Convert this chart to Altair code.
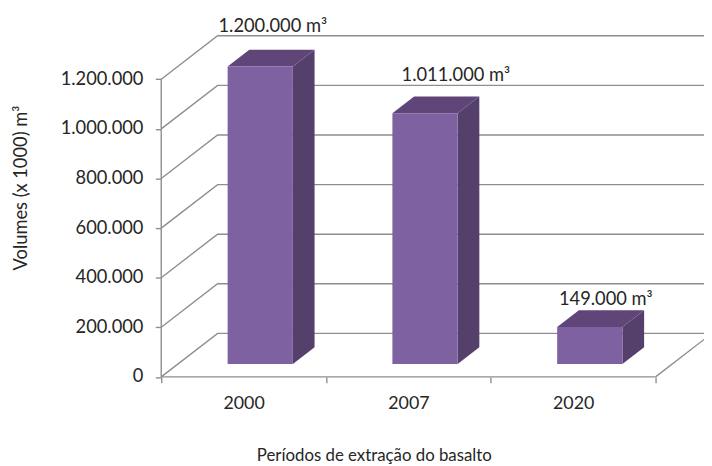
import altair as alt
import pandas as pd

categories = ["2000", "2007", "2020"]
volumes = [1200000, 1011000, 149000]
value_labels = ["1.200.000 m³", "1.011.000 m³", "149.000 m³"]
y_ticks = [0, 200000, 400000, 600000, 800000, 1000000, 1200000]

X_TITLE = "Períodos de extração do basalto"
Y_TITLE = "Volumes (x 1000) m³"
FONT = "Lato"
INK = "#262626"

# pseudo-3D projection, in data units
DEPTH_X = 0.342      # slots per full depth
DEPTH_Y = 175400     # volume units per full depth
BAR_WIDTH = 0.396
NEAR, FAR = 0.295, 0.68
XMIN, XMAX = 0.0, 3.0
x_scale = alt.Scale(domain=[-0.93, 3.294], nice=False, zero=False)
y_scale = alt.Scale(domain=[-348837, 1477076], nice=False, zero=False)
X = alt.X("x:Q", scale=x_scale, title=X_TITLE)
Y = alt.Y("y:Q", scale=y_scale, title=Y_TITLE)

# wall lines
seg = []
sid = 0
for t in y_ticks:
    seg += [dict(id=sid, o=0, x=XMIN, y=t),
            dict(id=sid, o=1, x=XMIN + DEPTH_X, y=t + DEPTH_Y),
            dict(id=sid, o=2, x=XMAX + DEPTH_X, y=t + DEPTH_Y)]
    sid += 1
seg += [dict(id=sid, o=0, x=XMAX, y=0), dict(id=sid, o=1, x=XMAX + DEPTH_X, y=DEPTH_Y)]
sid += 1
seg += [dict(id=sid, o=0, x=XMIN, y=0), dict(id=sid, o=1, x=XMAX, y=0)]
sid += 1
seg += [dict(id=sid, o=0, x=XMIN, y=0), dict(id=sid, o=1, x=XMIN, y=max(y_ticks))]
grid = (
    alt.Chart(pd.DataFrame(seg))
    .mark_line(color="#8e8e8e", strokeWidth=1.4, clip=True)
    .encode(
        x=alt.X(
            "x:Q", scale=x_scale, title=X_TITLE,
            axis=alt.Axis(
                offset=-87.5, values=[0, 0.5, 1, 1.5, 2, 2.5, 3], domain=False, grid=False,
                tickColor="#8e8e8e", tickWidth=1.4, tickSize=6,
                tickOpacity={"expr": "datum.value % 1 == 0 ? 1 : 0"},
                labelExpr="datum.value == 0.5 ? '2000' : datum.value == 1.5 ? '2007' : datum.value == 2.5 ? '2020' : ''",
                labelFont=FONT, labelFontSize=18, labelColor=INK, labelPadding=12,
                labelFlush=False, labelOverlap=False,
                titleFont=FONT, titleFontSize=17, titleFontWeight="normal", titleColor=INK,
                titleX=370, titleY=80, titleBaseline="middle",
            ),
        ),
        y=alt.Y(
            "y:Q", scale=y_scale, title=Y_TITLE,
            axis=alt.Axis(
                offset=-155, values=y_ticks, domain=False, grid=False,
                tickColor="#8e8e8e", tickWidth=1.4, tickSize=6,
                labelExpr="replace(format(datum.value, ','), /,/g, '.')",
                labelFont=FONT, labelFontSize=18.5, labelColor=INK, labelPadding=12.5, labelOffset=-1,
                labelOverlap=False,
                titleFont=FONT, titleFontSize=18.5, titleFontWeight="normal", titleColor=INK,
                titleX=-142, titleY=179, titleBaseline="middle",
            ),
        ),
        detail="id:N",
        order="o:Q",
    )
)

fronts, rights, tops, labels = [], [], [], []
for i, (c, v, lab) in enumerate(zip(categories, volumes, value_labels)):
    cx = i + 0.5
    left = cx - BAR_WIDTH / 2 + NEAR * DEPTH_X
    right = cx + BAR_WIDTH / 2 + NEAR * DEPTH_X
    base = NEAR * DEPTH_Y
    dd = FAR - NEAR
    fronts.append(dict(c=c, x=left, x2=right, y=base, y2=base + v))
    for t in (0, 1):
        rights.append(dict(c=c, x=right + t * dd * DEPTH_X,
                           y=base + t * dd * DEPTH_Y,
                           y2=base + v + t * dd * DEPTH_Y))
        tops.append(dict(c=c, y=base + v + t * dd * DEPTH_Y,
                         x=left + t * dd * DEPTH_X,
                         x2=right + t * dd * DEPTH_X))
    labels.append(dict(c=c, t=lab, x=cx, y=v))

front = (
    alt.Chart(pd.DataFrame(fronts))
    .mark_rect(color="#7e61a1")
    .encode(x=X, x2="x2:Q", y=Y, y2="y2:Q")
)
side = (
    alt.Chart(pd.DataFrame(rights))
    .mark_area(color="#54406b", orient="vertical", opacity=1)
    .encode(x=X, y=Y, y2="y2:Q", detail="c:N")
)
top = (
    alt.Chart(pd.DataFrame(tops))
    .mark_area(color="#5f4578", orient="horizontal", opacity=1)
    .encode(y=Y, x=X, x2="x2:Q", detail="c:N")
)

label_offsets = {"2000": (29.5, -54), "2007": (48, -52), "2020": (33, -41)}
texts = [
    alt.Chart(pd.DataFrame([l]))
    .mark_text(font=FONT, fontSize=18.5, color=INK,
               dx=label_offsets[l["c"]][0], dy=label_offsets[l["c"]][1])
    .encode(x=X, y=Y, text="t:N")
    for l in labels
]

chart = (
    alt.layer(grid, side, top, front, *texts)
    .properties(width=704, height=458, padding=0, autosize=alt.AutoSizeParams(type="none"), background="white")
    .configure_view(stroke=None)
)
chart.save("out.html", embed_options={"renderer": "svg", "actions": False})
